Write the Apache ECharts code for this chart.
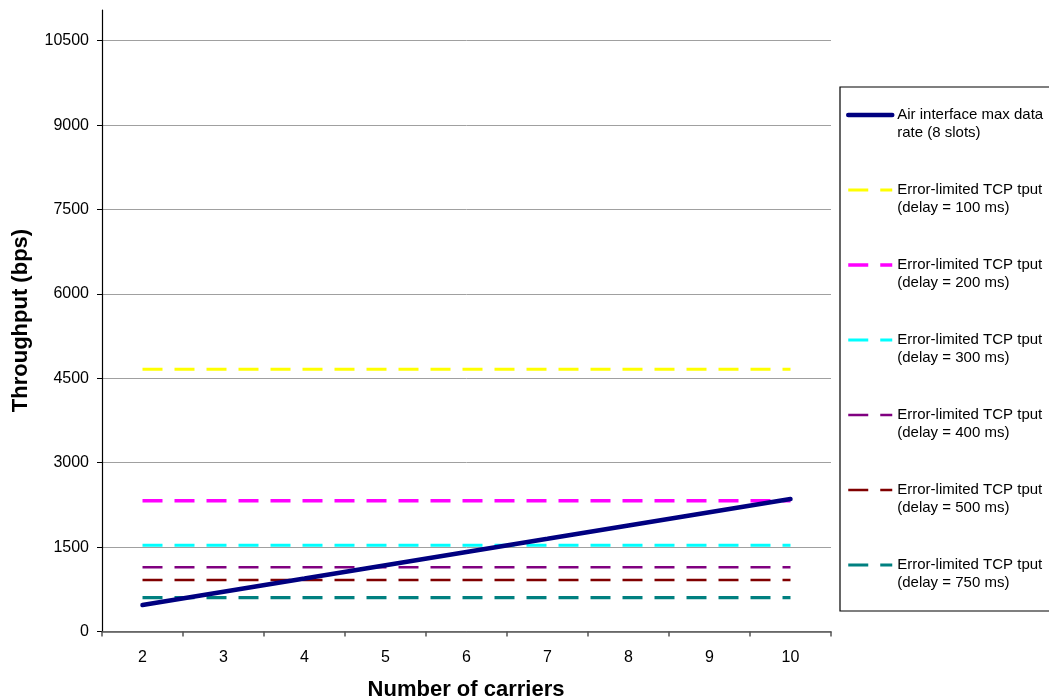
<!DOCTYPE html>
<html>
<head>
<meta charset="utf-8">
<script src="https://cdn.jsdelivr.net/npm/echarts@6/dist/echarts.min.js"></script>
<style>
html,body{margin:0;padding:0;background:#fff;}
#chart{width:1049px;height:699px;}
</style>
</head>
<body>
<div id="chart"></div>
<script>
const categories = ['2','3','4','5','6','7','8','9','10'];
const airInterface = [470, 706, 941, 1177, 1413, 1648, 1884, 2120, 2355];
const tcp100 = [4660, 4660, 4660, 4660, 4660, 4660, 4660, 4660, 4660];
const tcp200 = [2325, 2325, 2325, 2325, 2325, 2325, 2325, 2325, 2325];
const tcp300 = [1532, 1532, 1532, 1532, 1532, 1532, 1532, 1532, 1532];
const tcp400 = [1141, 1141, 1141, 1141, 1141, 1141, 1141, 1141, 1141];
const tcp500 = [915, 915, 915, 915, 915, 915, 915, 915, 915];
const tcp750 = [601, 601, 601, 601, 601, 601, 601, 601, 601];
const seriesNames = [
  'Air interface max data\nrate (8 slots)',
  'Error-limited TCP tput\n(delay = 100 ms)',
  'Error-limited TCP tput\n(delay = 200 ms)',
  'Error-limited TCP tput\n(delay = 300 ms)',
  'Error-limited TCP tput\n(delay = 400 ms)',
  'Error-limited TCP tput\n(delay = 500 ms)',
  'Error-limited TCP tput\n(delay = 750 ms)'
];
const yTicks = [0, 1500, 3000, 4500, 6000, 7500, 9000, 10500];

const FONT = 'Liberation Sans, Arial, sans-serif';
const chart = echarts.init(document.getElementById('chart'), null, {renderer: 'canvas'});

function dashed(name, data, color, width) {
  return {
    name: name, type: 'line', data: data, symbol: 'none', silent: true,
    lineStyle: {color: color, width: width, type: [20, 12], cap: 'butt'},
    itemStyle: {color: color}
  };
}

chart.setOption({
  animation: false,
  backgroundColor: '#fff',
  grid: {left: 102, right: 218, top: 10, bottom: 67.5, containLabel: false},
  xAxis: {
    type: 'category', data: categories, boundaryGap: true,
    axisLine: {lineStyle: {color: '#555', width: 1.5}},
    axisTick: {show: true, inside: false, length: 5, lineStyle: {color: '#555', width: 1.5}},
    axisLabel: {color: '#000', fontFamily: FONT, fontSize: 16, margin: 18},
    splitLine: {show: false}
  },
  yAxis: {
    type: 'value', min: 0, max: 11046, interval: 1500,
    axisLine: {show: true, lineStyle: {color: '#000', width: 1.2}},
    axisTick: {show: true, inside: false, length: 5, lineStyle: {color: '#000'}},
    axisLabel: {color: '#000', fontFamily: FONT, fontSize: 16, margin: 13, showMaxLabel: false,
      formatter: function (v) { return yTicks.indexOf(v) >= 0 ? String(v) : ''; }},
    splitLine: {show: true, showMaxLine: false, lineStyle: {color: '#a0a0a0', width: 1}}
  },
  legend: {
    orient: 'vertical', left: 841, top: 83,
    itemWidth: 44, itemHeight: 14, itemGap: 21,
    selectedMode: false,
    itemStyle: {opacity: 0},
    lineStyle: {width: 'inherit'},
    formatter: function (n) { return '\n' + n; },
    textStyle: {color: '#000', fontFamily: FONT, fontSize: 15, lineHeight: 18},
    data: seriesNames
  },
  graphic: [
    {type: 'rect', shape: {x: 840, y: 87, width: 230, height: 524},
      style: {fill: 'none', stroke: '#000', lineWidth: 1.2}, z: -1, silent: true},
    {type: 'text', x: 21, y: 320.5, rotation: Math.PI / 2,
      style: {text: 'Throughput (bps)', font: 'bold 22px ' + FONT, fill: '#000',
        textAlign: 'center', textVerticalAlign: 'middle'}},
    {type: 'text', x: 466, y: 690,
      style: {text: 'Number of carriers', font: 'bold 22px ' + FONT, fill: '#000',
        textAlign: 'center', textVerticalAlign: 'middle'}}
  ],
  series: [
    {name: seriesNames[0], type: 'line', data: airInterface, symbol: 'none', silent: true,
      lineStyle: {color: '#000080', width: 4.5, cap: 'round'}, itemStyle: {color: '#000080'}, z: 5},
    dashed(seriesNames[1], tcp100, '#FFFF00', 3),
    dashed(seriesNames[2], tcp200, '#FF00FF', 3.5),
    dashed(seriesNames[3], tcp300, '#00FFFF', 3),
    dashed(seriesNames[4], tcp400, '#800080', 2.6),
    dashed(seriesNames[5], tcp500, '#800000', 2.6),
    dashed(seriesNames[6], tcp750, '#008080', 3.2)
  ]
});
</script>
</body>
</html>
